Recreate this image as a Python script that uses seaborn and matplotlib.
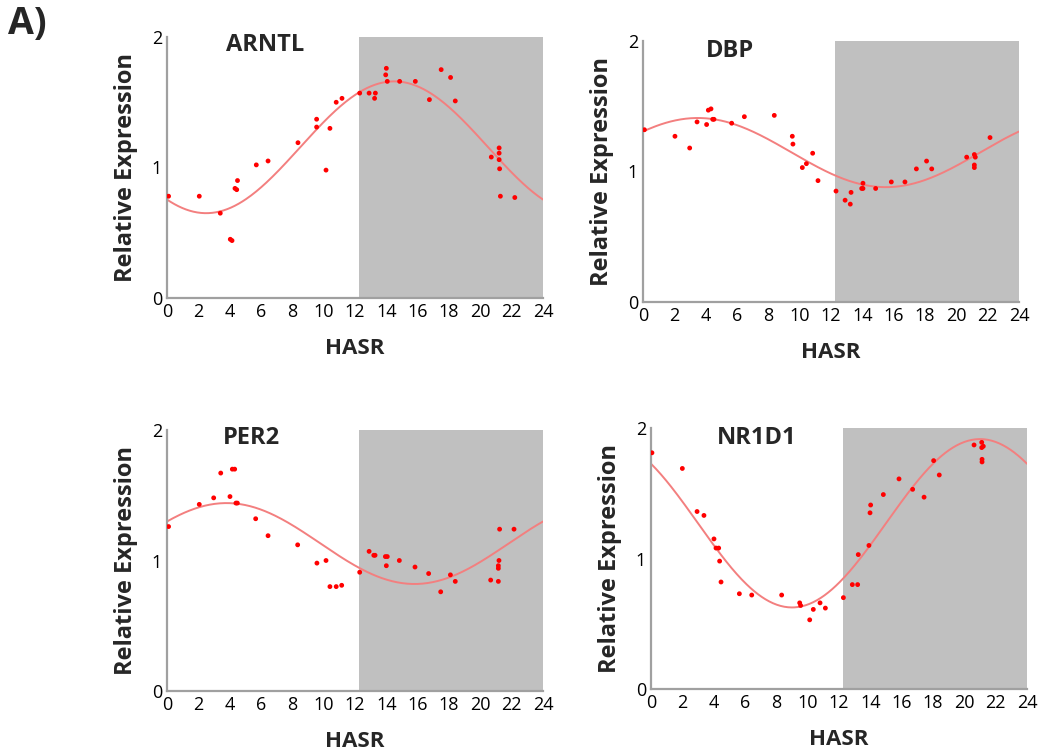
import numpy as np
import pandas as pd
import seaborn as sns
import matplotlib.pyplot as plt

# HASR (hours after scheduled rise) and relative expression
arntl_x = [0.1, 2.06, 3.4, 4.04, 4.15, 4.34, 4.45, 4.5, 5.7, 6.45, 8.36, 9.55, 9.55, 10.15,
           10.4, 10.8, 11.17, 12.3, 12.9, 13.3, 13.25, 14.0, 13.96, 14.06, 14.85, 15.85,
           16.75, 17.5, 18.1, 18.4, 20.7, 21.2, 21.2, 21.2, 21.23, 21.28, 22.2]
arntl_y = [0.78, 0.78, 0.65, 0.45, 0.44, 0.84, 0.83, 0.90, 1.02, 1.05, 1.19, 1.37, 1.31, 0.98,
           1.30, 1.50, 1.53, 1.57, 1.57, 1.57, 1.53, 1.76, 1.71, 1.66, 1.66, 1.66,
           1.52, 1.75, 1.69, 1.51, 1.08, 1.15, 1.11, 1.06, 0.99, 0.78, 0.77]

dbp_x = [0.09, 2.04, 2.98, 3.45, 4.06, 4.17, 4.34, 4.45, 4.53, 5.66, 6.47, 8.38, 9.53, 9.57,
         10.17, 10.43, 10.83, 11.17, 12.32, 12.9, 13.23, 13.28, 13.96, 14.04, 14.04, 14.85,
         15.85, 16.72, 17.45, 18.1, 18.43, 20.66, 21.15, 21.21, 21.15, 21.15, 22.15]
dbp_y = [1.32, 1.27, 1.18, 1.38, 1.36, 1.47, 1.48, 1.40, 1.40, 1.37, 1.42, 1.43, 1.27, 1.21,
         1.03, 1.06, 1.14, 0.93, 0.85, 0.78, 0.75, 0.84, 0.87, 0.91, 0.87, 0.87,
         0.92, 0.92, 1.02, 1.08, 1.02, 1.11, 1.13, 1.11, 1.05, 1.03, 1.26]

per2_x = [0.1, 2.06, 2.98, 3.43, 4.17, 4.32, 4.02, 4.4, 4.49, 5.66, 6.45, 8.34, 9.57, 10.15,
          10.4, 10.8, 11.15, 12.3, 12.9, 13.2, 13.28, 13.94, 14.06, 14.0, 14.83, 15.83,
          16.7, 17.47, 18.09, 18.4, 20.66, 21.15, 21.19, 21.15, 21.15, 21.23, 22.15]
per2_y = [1.26, 1.43, 1.48, 1.67, 1.70, 1.70, 1.49, 1.44, 1.44, 1.32, 1.19, 1.12, 0.98, 1.00,
          0.80, 0.80, 0.81, 0.91, 1.07, 1.04, 1.04, 1.03, 1.03, 0.96, 1.00, 0.95,
          0.90, 0.76, 0.89, 0.84, 0.85, 0.84, 1.00, 0.96, 0.94, 1.24, 1.24]

nr1d1_x = [0.06, 2.0, 2.94, 3.38, 4.02, 4.15, 4.32, 4.38, 4.47, 5.64, 6.43, 8.34, 9.49, 9.55,
           10.13, 10.36, 10.79, 11.13, 12.28, 12.85, 13.19, 13.23, 13.91, 13.98, 14.02, 14.83,
           15.83, 16.7, 17.43, 18.04, 18.4, 20.62, 21.11, 21.11, 21.21, 21.13, 21.13]
nr1d1_y = [1.81, 1.69, 1.36, 1.33, 1.15, 1.08, 1.08, 0.98, 0.82, 0.73, 0.72, 0.72, 0.66, 0.64,
           0.53, 0.61, 0.66, 0.62, 0.70, 0.80, 0.80, 1.03, 1.10, 1.35, 1.41, 1.49,
           1.61, 1.53, 1.47, 1.75, 1.64, 1.87, 1.89, 1.85, 1.86, 1.76, 1.74]

genes = ["ARNTL", "DBP", "PER2", "NR1D1"]
# cosinor fit: mesor, amplitude, peak time (h)
mesor = [1.155, 1.145, 1.13, 1.27]
amplitude = [0.505, 0.265, 0.31, 0.645]
acrophase = [14.5, 3.5, 3.8, 21.0]

data_x = [arntl_x, dbp_x, per2_x, nr1d1_x]
data_y = [arntl_y, dbp_y, per2_y, nr1d1_y]
title_pos = [(6.25, 1.94), (5.55, 1.92), (5.36, 1.94), (6.76, 1.92)]
dark_start = 12.25

sns.set_theme(style="white")
plt.rcParams['font.family'] = ['Open Sans', 'DejaVu Sans']

fig = plt.figure(figsize=(10.5, 7.53), dpi=100)
W, H = 1050, 753
boxes = [(167, 543, 37, 298), (643, 1019, 41, 302), (167, 543, 430, 691), (651, 1027, 428, 689)]

for i, gene in enumerate(genes):
    l, r, t, b = boxes[i]
    ax = fig.add_axes([l / W, 1 - b / H, (r - l) / W, (b - t) / H])
    ax.axvspan(dark_start, 24, ymin=0, ymax=1, color="#c0c0c0", lw=0, zorder=0)

    hrs = np.linspace(0, 24, 300)
    fit = mesor[i] + amplitude[i] * np.cos(2 * np.pi * (hrs - acrophase[i]) / 24)
    sns.lineplot(x=hrs, y=fit, ax=ax, color="#f37f7f", lw=1.4, zorder=2)
    df = pd.DataFrame({"HASR": data_x[i], "expr": data_y[i]})
    sns.scatterplot(data=df, x="HASR", y="expr", ax=ax, color="red", s=12,
                    edgecolor="none", zorder=3)

    ax.set_xlim(0, 24)
    ax.set_ylim(0, 2)
    ax.set_xticks(range(0, 25, 2))
    ax.set_xticks(range(1, 25, 2), minor=True)
    ax.set_yticks([0, 1, 2])
    ax.set_yticks([0.5, 1.5], minor=True)
    ax.tick_params(which="both", direction="inout", color="#9a9a9a", width=1, labelsize=13,
                   labelcolor="black", pad=1)
    ax.tick_params(which="major", length=5)
    ax.tick_params(which="minor", length=4)
    for side in ["top", "right"]:
        ax.spines[side].set_visible(False)
    for side in ["left", "bottom"]:
        ax.spines[side].set_color("#a0a0a0")
        ax.spines[side].set_linewidth(1.6)
    ax.set_xlabel("HASR", fontsize=16, fontweight="bold", labelpad=12)
    ax.set_ylabel("Relative Expression", fontsize=17, fontweight="bold", labelpad=10)
    ax.text(title_pos[i][0], title_pos[i][1], gene, fontsize=17, fontweight="bold",
            ha="center", va="center")

fig.text(8 / W, 1 - 24 / H, "A)", fontsize=27, fontweight="bold", ha="left", va="center")

fig.savefig("out.png", dpi=100)
plt.close("all")
